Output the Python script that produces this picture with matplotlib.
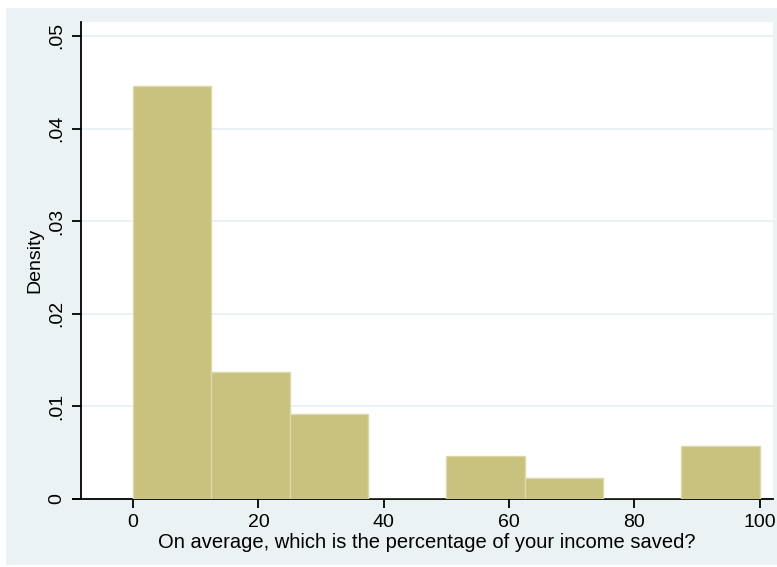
import numpy as np
import matplotlib
matplotlib.use('Agg')
import matplotlib.pyplot as plt
import matplotlib.patches as patches

# Histogram of share of income saved (density scale, bin width 12.5)
bin_edges = [0, 12.5, 25, 37.5, 50, 62.5, 75, 87.5, 100]
densities = [0.0446, 0.0137, 0.0092, 0.0, 0.0046, 0.0023, 0.0, 0.0057]
x_ticks = [0, 20, 40, 60, 80, 100]
y_ticks = [0, 0.01, 0.02, 0.03, 0.04, 0.05]
y_tick_labels = ['0', '.01', '.02', '.03', '.04', '.05']
x_title = 'On average, which is the percentage of your income saved?'
y_title = 'Density'

plt.rcParams['font.family'] = ['Liberation Sans', 'DejaVu Sans']

W, H = 777, 567
fig = plt.figure(figsize=(W / 100, H / 100), dpi=100)
fig.patch.set_facecolor('white')

# Stata-style outer graph region
fig.patches.append(patches.Rectangle(
    (6 / W, 2 / H), (W - 6) / W, (H - 10) / H,
    transform=fig.transFigure, facecolor='#eaf2f3', edgecolor='none', zorder=-1))

ax = fig.add_axes([81 / W, (H - 499) / H, (773 - 81) / W, (499 - 22) / H])
ax.set_facecolor('white')

lefts = np.array(bin_edges[:-1])
widths = np.diff(bin_edges)
ax.bar(lefts, densities, width=widths, align='edge',
       color='#c9c27e', edgecolor='#dcd8a8', linewidth=1.0, zorder=3)

ax.set_xlim(-8.3, 102.1)
ax.set_ylim(0, 0.0515)

ax.set_xticks(x_ticks)
ax.set_yticks(y_ticks)
ax.set_yticklabels(y_tick_labels, rotation=90, va='center')

ax.grid(axis='y', color='#e8f0f3', linewidth=1.3, zorder=1)
ax.grid(axis='x', visible=False)

for side in ['top', 'right']:
    ax.spines[side].set_visible(False)
ax.spines['left'].set_linewidth(1.3)
ax.spines['bottom'].set_linewidth(1.3)

# x axis line runs past the y axis to the end of the y ticks
ax.plot([-9.8, -8.3], [0, 0], color='black', linewidth=1.3,
        clip_on=False, zorder=5, solid_capstyle='butt')

ax.tick_params(axis='both', length=6.5, width=1.3, labelsize=14,
               colors='black')
ax.tick_params(axis='x', pad=4.5)
ax.tick_params(axis='y', pad=5)

ax.set_xlabel(x_title, fontsize=14.5)
ax.xaxis.set_label_coords(0.5, -0.071)
ax.xaxis.label.set_va('top')

ax.set_ylabel(y_title, fontsize=14)
ax.yaxis.set_label_coords(-0.055, 0.5)

fig.savefig('out.png', dpi=100)
